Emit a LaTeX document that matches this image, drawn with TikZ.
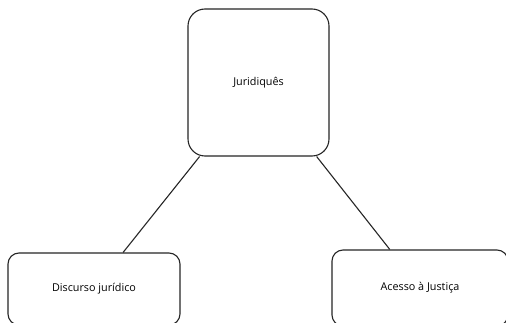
\documentclass[tikz,border=0pt]{standalone}
\usepackage{fontspec}
\setmainfont{Open Sans}
\begin{document}
\begin{tikzpicture}[x=1pt,y=-1pt,
  box/.style={draw=black!85, line width=1.1pt, rectangle, inner sep=0pt, font=\fontsize{10.8}{12}\selectfont},
  link/.style={draw=black!85, line width=1.1pt}]
\useasboundingbox[fill=white] (0,0) rectangle (506,323);
\node[box, rounded corners=17pt, minimum width=141pt, minimum height=147pt] (top) at (258.5,82.5) {Juridiquês};
\node[box, rounded corners=11pt, minimum width=172pt, minimum height=72pt] (left) at (94,289) {Discurso jurídico};
\node[box, rounded corners=11pt, minimum width=176pt, minimum height=76pt] (right) at (420,288) {Acesso à Justiça};
\draw[link] (top) -- (left);
\draw[link] (top) -- (right);
\end{tikzpicture}
\end{document}
